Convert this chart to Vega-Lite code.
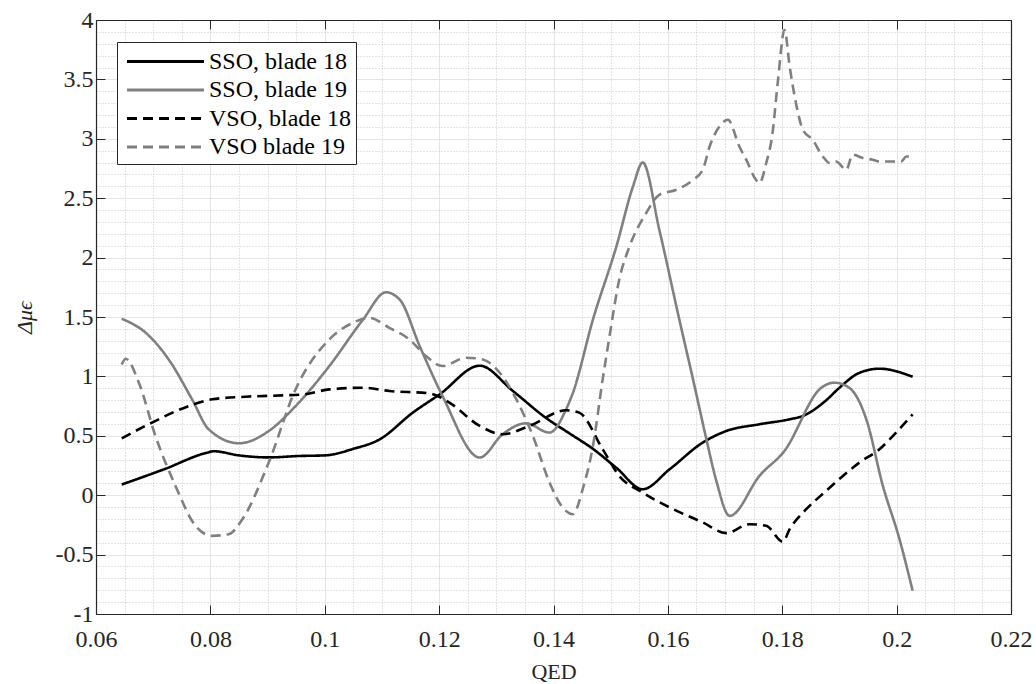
{
  "$schema": "https://vega.github.io/schema/vega-lite/v6.json",
  "width": 915,
  "height": 594,
  "autosize": "none",
  "padding": {"left": 96, "top": 20, "right": 25, "bottom": 70},
  "background": "white",
  "config": {"view": {"stroke": null}, "font": "Liberation Serif"},
  "data": {"values": [
    {"s": "SSO, blade 18", "x": 0.0645, "y": 0.09},
    {"s": "SSO, blade 18", "x": 0.072, "y": 0.22},
    {"s": "SSO, blade 18", "x": 0.0792, "y": 0.355},
    {"s": "SSO, blade 18", "x": 0.0806, "y": 0.37},
    {"s": "SSO, blade 18", "x": 0.085, "y": 0.335},
    {"s": "SSO, blade 18", "x": 0.0902, "y": 0.318},
    {"s": "SSO, blade 18", "x": 0.0955, "y": 0.33},
    {"s": "SSO, blade 18", "x": 0.1, "y": 0.335},
    {"s": "SSO, blade 18", "x": 0.105, "y": 0.39},
    {"s": "SSO, blade 18", "x": 0.1096, "y": 0.47},
    {"s": "SSO, blade 18", "x": 0.1154, "y": 0.695},
    {"s": "SSO, blade 18", "x": 0.1201, "y": 0.849},
    {"s": "SSO, blade 18", "x": 0.1271, "y": 1.09},
    {"s": "SSO, blade 18", "x": 0.1329, "y": 0.877},
    {"s": "SSO, blade 18", "x": 0.1387, "y": 0.65},
    {"s": "SSO, blade 18", "x": 0.1428, "y": 0.52},
    {"s": "SSO, blade 18", "x": 0.1469, "y": 0.39},
    {"s": "SSO, blade 18", "x": 0.151, "y": 0.23},
    {"s": "SSO, blade 18", "x": 0.1556, "y": 0.05},
    {"s": "SSO, blade 18", "x": 0.1603, "y": 0.218},
    {"s": "SSO, blade 18", "x": 0.1661, "y": 0.443},
    {"s": "SSO, blade 18", "x": 0.1702, "y": 0.54},
    {"s": "SSO, blade 18", "x": 0.176, "y": 0.597},
    {"s": "SSO, blade 18", "x": 0.1813, "y": 0.639},
    {"s": "SSO, blade 18", "x": 0.1836, "y": 0.667},
    {"s": "SSO, blade 18", "x": 0.1877, "y": 0.8},
    {"s": "SSO, blade 18", "x": 0.19, "y": 0.905},
    {"s": "SSO, blade 18", "x": 0.1935, "y": 1.03},
    {"s": "SSO, blade 18", "x": 0.197, "y": 1.065},
    {"s": "SSO, blade 18", "x": 0.2028, "y": 0.997},

    {"s": "SSO, blade 19", "x": 0.0645, "y": 1.485},
    {"s": "SSO, blade 19", "x": 0.0687, "y": 1.367},
    {"s": "SSO, blade 19", "x": 0.0727, "y": 1.143},
    {"s": "SSO, blade 19", "x": 0.0768, "y": 0.807},
    {"s": "SSO, blade 19", "x": 0.0797, "y": 0.555},
    {"s": "SSO, blade 19", "x": 0.085, "y": 0.437},
    {"s": "SSO, blade 19", "x": 0.0902, "y": 0.54},
    {"s": "SSO, blade 19", "x": 0.0949, "y": 0.75},
    {"s": "SSO, blade 19", "x": 0.1008, "y": 1.087},
    {"s": "SSO, blade 19", "x": 0.1067, "y": 1.479},
    {"s": "SSO, blade 19", "x": 0.1107, "y": 1.708},
    {"s": "SSO, blade 19", "x": 0.1131, "y": 1.647},
    {"s": "SSO, blade 19", "x": 0.1166, "y": 1.255},
    {"s": "SSO, blade 19", "x": 0.1206, "y": 0.834},
    {"s": "SSO, blade 19", "x": 0.1271, "y": 0.317},
    {"s": "SSO, blade 19", "x": 0.1311, "y": 0.513},
    {"s": "SSO, blade 19", "x": 0.1352, "y": 0.605},
    {"s": "SSO, blade 19", "x": 0.1393, "y": 0.527},
    {"s": "SSO, blade 19", "x": 0.1422, "y": 0.723},
    {"s": "SSO, blade 19", "x": 0.1434, "y": 0.863},
    {"s": "SSO, blade 19", "x": 0.1469, "y": 1.479},
    {"s": "SSO, blade 19", "x": 0.151, "y": 2.095},
    {"s": "SSO, blade 19", "x": 0.1539, "y": 2.599},
    {"s": "SSO, blade 19", "x": 0.1556, "y": 2.801},
    {"s": "SSO, blade 19", "x": 0.1585, "y": 2.235},
    {"s": "SSO, blade 19", "x": 0.162, "y": 1.479},
    {"s": "SSO, blade 19", "x": 0.1644, "y": 0.975},
    {"s": "SSO, blade 19", "x": 0.1666, "y": 0.5},
    {"s": "SSO, blade 19", "x": 0.1684, "y": 0.134},
    {"s": "SSO, blade 19", "x": 0.1708, "y": -0.174},
    {"s": "SSO, blade 19", "x": 0.176, "y": 0.162},
    {"s": "SSO, blade 19", "x": 0.1813, "y": 0.44},
    {"s": "SSO, blade 19", "x": 0.183, "y": 0.6},
    {"s": "SSO, blade 19", "x": 0.1842, "y": 0.72},
    {"s": "SSO, blade 19", "x": 0.1865, "y": 0.891},
    {"s": "SSO, blade 19", "x": 0.1891, "y": 0.947},
    {"s": "SSO, blade 19", "x": 0.1917, "y": 0.905},
    {"s": "SSO, blade 19", "x": 0.1947, "y": 0.639},
    {"s": "SSO, blade 19", "x": 0.1976, "y": 0.078},
    {"s": "SSO, blade 19", "x": 0.2005, "y": -0.37},
    {"s": "SSO, blade 19", "x": 0.2028, "y": -0.804},

    {"s": "VSO, blade 18", "x": 0.0645, "y": 0.479},
    {"s": "VSO, blade 18", "x": 0.0692, "y": 0.597},
    {"s": "VSO, blade 18", "x": 0.0762, "y": 0.75},
    {"s": "VSO, blade 18", "x": 0.0803, "y": 0.807},
    {"s": "VSO, blade 18", "x": 0.0861, "y": 0.829},
    {"s": "VSO, blade 18", "x": 0.0926, "y": 0.84},
    {"s": "VSO, blade 18", "x": 0.0966, "y": 0.85},
    {"s": "VSO, blade 18", "x": 0.1008, "y": 0.891},
    {"s": "VSO, blade 18", "x": 0.1067, "y": 0.905},
    {"s": "VSO, blade 18", "x": 0.1113, "y": 0.877},
    {"s": "VSO, blade 18", "x": 0.1183, "y": 0.857},
    {"s": "VSO, blade 18", "x": 0.1218, "y": 0.779},
    {"s": "VSO, blade 18", "x": 0.1271, "y": 0.583},
    {"s": "VSO, blade 18", "x": 0.1311, "y": 0.513},
    {"s": "VSO, blade 18", "x": 0.1358, "y": 0.583},
    {"s": "VSO, blade 18", "x": 0.1422, "y": 0.715},
    {"s": "VSO, blade 18", "x": 0.1445, "y": 0.695},
    {"s": "VSO, blade 18", "x": 0.1486, "y": 0.387},
    {"s": "VSO, blade 18", "x": 0.1515, "y": 0.162},
    {"s": "VSO, blade 18", "x": 0.1556, "y": 0.022},
    {"s": "VSO, blade 18", "x": 0.1603, "y": -0.103},
    {"s": "VSO, blade 18", "x": 0.1661, "y": -0.229},
    {"s": "VSO, blade 18", "x": 0.1702, "y": -0.319},
    {"s": "VSO, blade 18", "x": 0.1743, "y": -0.244},
    {"s": "VSO, blade 18", "x": 0.1772, "y": -0.258},
    {"s": "VSO, blade 18", "x": 0.1801, "y": -0.392},
    {"s": "VSO, blade 18", "x": 0.1813, "y": -0.286},
    {"s": "VSO, blade 18", "x": 0.1842, "y": -0.118},
    {"s": "VSO, blade 18", "x": 0.1877, "y": 0.037},
    {"s": "VSO, blade 18", "x": 0.1906, "y": 0.162},
    {"s": "VSO, blade 18", "x": 0.1935, "y": 0.275},
    {"s": "VSO, blade 18", "x": 0.197, "y": 0.387},
    {"s": "VSO, blade 18", "x": 0.1999, "y": 0.527},
    {"s": "VSO, blade 18", "x": 0.2028, "y": 0.681},

    {"s": "VSO blade 19", "x": 0.0645, "y": 1.1},
    {"s": "VSO blade 19", "x": 0.0652, "y": 1.148},
    {"s": "VSO blade 19", "x": 0.0675, "y": 0.947},
    {"s": "VSO blade 19", "x": 0.0704, "y": 0.498},
    {"s": "VSO blade 19", "x": 0.0739, "y": 0.078},
    {"s": "VSO blade 19", "x": 0.0774, "y": -0.258},
    {"s": "VSO blade 19", "x": 0.0803, "y": -0.342},
    {"s": "VSO blade 19", "x": 0.0832, "y": -0.328},
    {"s": "VSO blade 19", "x": 0.0856, "y": -0.202},
    {"s": "VSO blade 19", "x": 0.0902, "y": 0.275},
    {"s": "VSO blade 19", "x": 0.0949, "y": 0.891},
    {"s": "VSO blade 19", "x": 0.1008, "y": 1.311},
    {"s": "VSO blade 19", "x": 0.1049, "y": 1.451},
    {"s": "VSO blade 19", "x": 0.1078, "y": 1.493},
    {"s": "VSO blade 19", "x": 0.1113, "y": 1.409},
    {"s": "VSO blade 19", "x": 0.1148, "y": 1.311},
    {"s": "VSO blade 19", "x": 0.1177, "y": 1.171},
    {"s": "VSO blade 19", "x": 0.1206, "y": 1.087},
    {"s": "VSO blade 19", "x": 0.1247, "y": 1.157},
    {"s": "VSO blade 19", "x": 0.1276, "y": 1.143},
    {"s": "VSO blade 19", "x": 0.1306, "y": 1.031},
    {"s": "VSO blade 19", "x": 0.1335, "y": 0.807},
    {"s": "VSO blade 19", "x": 0.1364, "y": 0.498},
    {"s": "VSO blade 19", "x": 0.1393, "y": 0.107},
    {"s": "VSO blade 19", "x": 0.1416, "y": -0.103},
    {"s": "VSO blade 19", "x": 0.1434, "y": -0.16},
    {"s": "VSO blade 19", "x": 0.1451, "y": 0.05},
    {"s": "VSO blade 19", "x": 0.1469, "y": 0.415},
    {"s": "VSO blade 19", "x": 0.1486, "y": 0.975},
    {"s": "VSO blade 19", "x": 0.1498, "y": 1.339},
    {"s": "VSO blade 19", "x": 0.1515, "y": 1.815},
    {"s": "VSO blade 19", "x": 0.1533, "y": 2.095},
    {"s": "VSO blade 19", "x": 0.1562, "y": 2.375},
    {"s": "VSO blade 19", "x": 0.1585, "y": 2.529},
    {"s": "VSO blade 19", "x": 0.1615, "y": 2.571},
    {"s": "VSO blade 19", "x": 0.1644, "y": 2.655},
    {"s": "VSO blade 19", "x": 0.1661, "y": 2.739},
    {"s": "VSO blade 19", "x": 0.1673, "y": 2.935},
    {"s": "VSO blade 19", "x": 0.169, "y": 3.103},
    {"s": "VSO blade 19", "x": 0.1705, "y": 3.16},
    {"s": "VSO blade 19", "x": 0.1725, "y": 2.935},
    {"s": "VSO blade 19", "x": 0.1737, "y": 2.824},
    {"s": "VSO blade 19", "x": 0.1754, "y": 2.655},
    {"s": "VSO blade 19", "x": 0.176, "y": 2.627},
    {"s": "VSO blade 19", "x": 0.1772, "y": 2.796},
    {"s": "VSO blade 19", "x": 0.1783, "y": 3.048},
    {"s": "VSO blade 19", "x": 0.1792, "y": 3.468},
    {"s": "VSO blade 19", "x": 0.1804, "y": 3.916},
    {"s": "VSO blade 19", "x": 0.1813, "y": 3.608},
    {"s": "VSO blade 19", "x": 0.1824, "y": 3.3},
    {"s": "VSO blade 19", "x": 0.1836, "y": 3.076},
    {"s": "VSO blade 19", "x": 0.1853, "y": 2.992},
    {"s": "VSO blade 19", "x": 0.1871, "y": 2.851},
    {"s": "VSO blade 19", "x": 0.1883, "y": 2.796},
    {"s": "VSO blade 19", "x": 0.1894, "y": 2.809},
    {"s": "VSO blade 19", "x": 0.1912, "y": 2.739},
    {"s": "VSO blade 19", "x": 0.1923, "y": 2.866},
    {"s": "VSO blade 19", "x": 0.1941, "y": 2.838},
    {"s": "VSO blade 19", "x": 0.1958, "y": 2.824},
    {"s": "VSO blade 19", "x": 0.197, "y": 2.809},
    {"s": "VSO blade 19", "x": 0.1988, "y": 2.809},
    {"s": "VSO blade 19", "x": 0.2008, "y": 2.809},
    {"s": "VSO blade 19", "x": 0.2017, "y": 2.851},
    {"s": "VSO blade 19", "x": 0.2025, "y": 2.85}
  ]},
  "layer": [
    {
      "mark": {"type": "line", "interpolate": "monotone", "strokeWidth": 2.6},
      "encoding": {
        "x": {
          "field": "x", "type": "quantitative",
          "scale": {"domain": [0.06, 0.22], "nice": false, "zero": false},
          "axis": {
            "orient": "bottom",
            "values": [0.06, 0.065, 0.07, 0.075, 0.08, 0.085, 0.09, 0.095, 0.1, 0.105, 0.11, 0.115, 0.12, 0.125, 0.13, 0.135, 0.14, 0.145, 0.15, 0.155, 0.16, 0.165, 0.17, 0.175, 0.18, 0.185, 0.19, 0.195, 0.2, 0.205, 0.21, 0.215, 0.22],
            "labelExpr": "abs(datum.value*50 - round(datum.value*50)) < 1e-6 ? '' + datum.value : ''",
            "labelFont": "Liberation Serif", "labelFontSize": 24, "labelColor": "#262626",
            "labelOverlap": false, "labelFlush": false, "labelBound": false, "labelPadding": 22,
            "grid": true,
            "gridColor": {"condition": {"test": "abs(datum.value*50 - round(datum.value*50)) < 1e-6", "value": "#dcdcdc"}, "value": "#c8c8c8"},
            "gridDash": {"condition": {"test": "abs(datum.value*50 - round(datum.value*50)) < 1e-6", "value": [1, 0]}, "value": [1, 2]},
            "gridWidth": 1,
            "tickColor": "#262626",
            "tickOpacity": {"condition": {"test": "abs(datum.value*50 - round(datum.value*50)) < 1e-6", "value": 1}, "value": 0},
            "tickSize": -9, "tickWidth": 1,
            "domainColor": "#262626", "domainWidth": 1.2,
            "title": "QED", "titleFont": "Liberation Serif", "titleFontSize": 22, "titleFontWeight": "normal", "titleColor": "#262626", "titlePadding": 10
          }
        },
        "y": {
          "field": "y", "type": "quantitative",
          "scale": {"domain": [-1, 4], "nice": false, "zero": false},
          "axis": {
            "orient": "left",
            "values": [-1, -0.9, -0.8, -0.7, -0.6, -0.5, -0.4, -0.3, -0.2, -0.1, 0, 0.1, 0.2, 0.3, 0.4, 0.5, 0.6, 0.7, 0.8, 0.9, 1, 1.1, 1.2, 1.3, 1.4, 1.5, 1.6, 1.7, 1.8, 1.9, 2, 2.1, 2.2, 2.3, 2.4, 2.5, 2.6, 2.7, 2.8, 2.9, 3, 3.1, 3.2, 3.3, 3.4, 3.5, 3.6, 3.7, 3.8, 3.9, 4],
            "labelExpr": "abs(datum.value*2 - round(datum.value*2)) < 1e-6 ? '' + datum.value : ''",
            "labelFont": "Liberation Serif", "labelFontSize": 24, "labelColor": "#262626",
            "labelOverlap": false, "labelFlush": false, "labelBound": false, "labelPadding": 12,
            "grid": true,
            "gridColor": {"condition": {"test": "abs(datum.value*2 - round(datum.value*2)) < 1e-6", "value": "#dcdcdc"}, "value": "#c8c8c8"},
            "gridDash": {"condition": {"test": "abs(datum.value*2 - round(datum.value*2)) < 1e-6", "value": [1, 0]}, "value": [1, 2]},
            "gridWidth": 1,
            "tickColor": "#262626",
            "tickOpacity": {"condition": {"test": "abs(datum.value*2 - round(datum.value*2)) < 1e-6", "value": 1}, "value": 0},
            "tickSize": -9, "tickWidth": 1,
            "domainColor": "#262626", "domainWidth": 1.2,
            "title": "Δμϵ", "titleFont": "Liberation Serif", "titleFontSize": 22, "titleFontWeight": "normal", "titleFontStyle": "italic", "titleColor": "#262626", "titlePadding": 19
          }
        },
        "color": {
          "field": "s", "type": "nominal",
          "scale": {"domain": ["SSO, blade 18", "SSO, blade 19", "VSO, blade 18", "VSO blade 19"], "range": ["#000000", "#808080", "#000000", "#808080"]},
          "legend": {"title": null, "orient": "none", "legendX": 21, "legendY": 22, "padding": 5, "fillColor": "white", "strokeColor": "#262626", "symbolType": "M-3,0H3", "symbolSize": 659, "symbolStrokeWidth": 3, "symbolOffset": 29, "labelOffset": 29, "labelFont": "Liberation Serif", "labelFontSize": 24, "labelColor": "#000000", "rowPadding": 1.5, "cornerRadius": 0}
        },
        "strokeDash": {
          "field": "s", "type": "nominal",
          "scale": {"domain": ["SSO, blade 18", "SSO, blade 19", "VSO, blade 18", "VSO blade 19"], "range": [[1, 0], [1, 0], [10, 6], [10, 6]]},
          "legend": {"title": null, "orient": "none", "legendX": 21, "legendY": 22, "padding": 5, "fillColor": "white", "strokeColor": "#262626", "symbolType": "M-3,0H3", "symbolSize": 659, "symbolStrokeWidth": 3, "symbolOffset": 29, "labelOffset": 29, "labelFont": "Liberation Serif", "labelFontSize": 24, "labelColor": "#000000", "rowPadding": 1.5, "cornerRadius": 0}
        }
      }
    },
    {
      "mark": {"type": "point", "opacity": 0},
      "encoding": {
        "x": {
          "field": "x", "type": "quantitative",
          "axis": {"orient": "top", "values": [0.06, 0.08, 0.1, 0.12, 0.14, 0.16, 0.18, 0.2, 0.22], "labels": false, "grid": false, "tickSize": -9, "tickWidth": 1, "tickColor": "#262626", "domainColor": "#262626", "domainWidth": 1.2, "title": null}
        },
        "y": {
          "field": "y", "type": "quantitative",
          "axis": {"orient": "right", "values": [-1, -0.5, 0, 0.5, 1, 1.5, 2, 2.5, 3, 3.5, 4], "labels": false, "grid": false, "tickSize": -9, "tickWidth": 1, "tickColor": "#262626", "domainColor": "#262626", "domainWidth": 1.2, "title": null}
        }
      }
    }
  ],
  "resolve": {"axis": {"x": "independent", "y": "independent"}}
}
